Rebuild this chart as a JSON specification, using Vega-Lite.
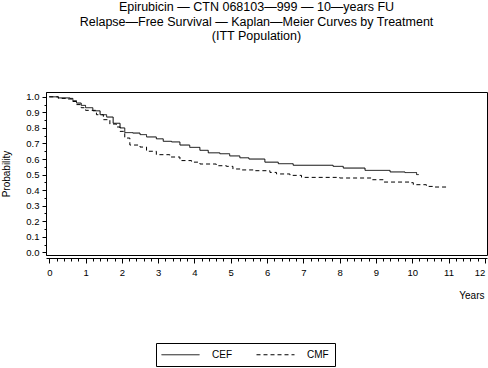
{
  "$schema": "https://vega.github.io/schema/vega-lite/v6.json",
  "autosize": {"type": "none"},
  "width": 441,
  "height": 163,
  "padding": {"left": 46, "top": 92, "right": 1, "bottom": 113},
  "background": "white",
  "title": {
    "text": ["Epirubicin — CTN 068103—999 — 10—years FU", "Relapse—Free Survival — Kaplan—Meier Curves by Treatment", "(ITT Population)"],
    "anchor": "middle",
    "dx": -10,
    "offset": 49,
    "font": "Liberation Sans",
    "fontSize": 12.5,
    "fontWeight": "normal",
    "lineHeight": 14.5,
    "color": "black"
  },
  "config": {
    "view": {"stroke": "black", "strokeWidth": 1},
    "axis": {
      "labelFont": "Liberation Sans",
      "titleFont": "Liberation Sans",
      "labelColor": "black",
      "titleColor": "black",
      "tickColor": "black",
      "domainColor": "black",
      "grid": false,
      "labelFontSize": 9.5,
      "titleFontSize": 10,
      "titleFontWeight": "normal"
    },
    "legend": {
      "labelFont": "Liberation Sans",
      "labelFontSize": 10,
      "labelColor": "black"
    }
  },
  "data": {
    "values": [
      {"t": 0, "p": 1.0, "trt": "CEF"},
      {"t": 0.25, "p": 0.993, "trt": "CEF"},
      {"t": 0.57, "p": 0.99, "trt": "CEF"},
      {"t": 0.65, "p": 0.975, "trt": "CEF"},
      {"t": 0.75, "p": 0.96, "trt": "CEF"},
      {"t": 0.88, "p": 0.945, "trt": "CEF"},
      {"t": 1.0, "p": 0.93, "trt": "CEF"},
      {"t": 1.2, "p": 0.91, "trt": "CEF"},
      {"t": 1.4, "p": 0.885, "trt": "CEF"},
      {"t": 1.58, "p": 0.87, "trt": "CEF"},
      {"t": 1.76, "p": 0.83, "trt": "CEF"},
      {"t": 1.95, "p": 0.8, "trt": "CEF"},
      {"t": 2.08, "p": 0.77, "trt": "CEF"},
      {"t": 2.3, "p": 0.767, "trt": "CEF"},
      {"t": 2.5, "p": 0.757, "trt": "CEF"},
      {"t": 2.68, "p": 0.742, "trt": "CEF"},
      {"t": 2.95, "p": 0.73, "trt": "CEF"},
      {"t": 3.14, "p": 0.714, "trt": "CEF"},
      {"t": 3.37, "p": 0.71, "trt": "CEF"},
      {"t": 3.6, "p": 0.69, "trt": "CEF"},
      {"t": 3.87, "p": 0.675, "trt": "CEF"},
      {"t": 4.15, "p": 0.656, "trt": "CEF"},
      {"t": 4.38, "p": 0.64, "trt": "CEF"},
      {"t": 4.7, "p": 0.634, "trt": "CEF"},
      {"t": 4.97, "p": 0.62, "trt": "CEF"},
      {"t": 5.25, "p": 0.608, "trt": "CEF"},
      {"t": 5.5, "p": 0.6, "trt": "CEF"},
      {"t": 5.94, "p": 0.58, "trt": "CEF"},
      {"t": 6.31, "p": 0.57, "trt": "CEF"},
      {"t": 6.72, "p": 0.56, "trt": "CEF"},
      {"t": 7.82, "p": 0.553, "trt": "CEF"},
      {"t": 8.1, "p": 0.542, "trt": "CEF"},
      {"t": 8.7, "p": 0.527, "trt": "CEF"},
      {"t": 9.39, "p": 0.517, "trt": "CEF"},
      {"t": 9.8, "p": 0.513, "trt": "CEF"},
      {"t": 10.12, "p": 0.5, "trt": "CEF"},
      {"t": 10.18, "p": 0.5, "trt": "CEF"},
      {"t": 0, "p": 1.0, "trt": "CMF"},
      {"t": 0.25, "p": 0.99, "trt": "CMF"},
      {"t": 0.52, "p": 0.986, "trt": "CMF"},
      {"t": 0.62, "p": 0.97, "trt": "CMF"},
      {"t": 0.75, "p": 0.95, "trt": "CMF"},
      {"t": 0.88, "p": 0.93, "trt": "CMF"},
      {"t": 1.0, "p": 0.913, "trt": "CMF"},
      {"t": 1.3, "p": 0.885, "trt": "CMF"},
      {"t": 1.49, "p": 0.853, "trt": "CMF"},
      {"t": 1.67, "p": 0.825, "trt": "CMF"},
      {"t": 1.85, "p": 0.806, "trt": "CMF"},
      {"t": 1.95, "p": 0.778, "trt": "CMF"},
      {"t": 2.08, "p": 0.735, "trt": "CMF"},
      {"t": 2.22, "p": 0.69, "trt": "CMF"},
      {"t": 2.5, "p": 0.677, "trt": "CMF"},
      {"t": 2.68, "p": 0.65, "trt": "CMF"},
      {"t": 2.95, "p": 0.628, "trt": "CMF"},
      {"t": 3.32, "p": 0.613, "trt": "CMF"},
      {"t": 3.6, "p": 0.59, "trt": "CMF"},
      {"t": 3.92, "p": 0.58, "trt": "CMF"},
      {"t": 4.15, "p": 0.568, "trt": "CMF"},
      {"t": 4.6, "p": 0.557, "trt": "CMF"},
      {"t": 4.88, "p": 0.553, "trt": "CMF"},
      {"t": 5.06, "p": 0.536, "trt": "CMF"},
      {"t": 5.3, "p": 0.53, "trt": "CMF"},
      {"t": 5.62, "p": 0.525, "trt": "CMF"},
      {"t": 6.08, "p": 0.514, "trt": "CMF"},
      {"t": 6.26, "p": 0.504, "trt": "CMF"},
      {"t": 6.63, "p": 0.495, "trt": "CMF"},
      {"t": 6.95, "p": 0.482, "trt": "CMF"},
      {"t": 8.0, "p": 0.478, "trt": "CMF"},
      {"t": 8.9, "p": 0.467, "trt": "CMF"},
      {"t": 9.2, "p": 0.452, "trt": "CMF"},
      {"t": 9.93, "p": 0.448, "trt": "CMF"},
      {"t": 10.03, "p": 0.435, "trt": "CMF"},
      {"t": 10.39, "p": 0.424, "trt": "CMF"},
      {"t": 10.6, "p": 0.42, "trt": "CMF"},
      {"t": 11.0, "p": 0.42, "trt": "CMF"}
    ]
  },
  "mark": {"type": "line", "interpolate": "step-after", "strokeWidth": 1, "color": "black"},
  "encoding": {
    "x": {
      "field": "t",
      "type": "quantitative",
      "scale": {"domain": [-0.09, 12.06], "nice": false, "zero": false},
      "axis": {
        "title": "Years",
        "titleAnchor": "end",
        "titleAlign": "right",
        "titleX": 438,
        "titlePadding": 14,
        "offset": 3,
        "labelPadding": 4,
        "values": [0,0.2,0.4,0.6,0.8,1,1.2,1.4,1.6,1.8,2,2.2,2.4,2.6,2.8,3,3.2,3.4,3.6,3.8,4,4.2,4.4,4.6,4.8,5,5.2,5.4,5.6,5.8,6,6.2,6.4,6.6,6.8,7,7.2,7.4,7.6,7.8,8,8.2,8.4,8.6,8.8,9,9.2,9.4,9.6,9.8,10,10.2,10.4,10.6,10.8,11,11.2,11.4,11.6,11.8,12],
        "labelExpr": "datum.value % 1 === 0 ? format(datum.value, 'd') : ''",
        "labelAlign": {"condition": {"test": "datum.value === 12", "value": "right"}, "value": "center"},
        "labelBound": false,
        "tickSize": {"condition": {"test": "datum.value % 1 === 0", "value": 5}, "value": 3}
      }
    },
    "y": {
      "field": "p",
      "type": "quantitative",
      "scale": {"domain": [-0.017, 1.031], "nice": false, "zero": false},
      "axis": {
        "title": "Probability",
        "titlePadding": 14,
        "labelPadding": 3,
        "values": [0,0.05,0.1,0.15,0.2,0.25,0.3,0.35,0.4,0.45,0.5,0.55,0.6,0.65,0.7,0.75,0.8,0.85,0.9,0.95,1],
        "labelExpr": "abs(datum.value*10 - round(datum.value*10)) < 0.000001 ? format(datum.value, '.1f') : ''",
        "tickSize": {"condition": {"test": "abs(datum.value*10 - round(datum.value*10)) < 0.000001", "value": 4}, "value": 2}
      }
    },
    "strokeDash": {
      "field": "trt",
      "type": "nominal",
      "scale": {"domain": ["CEF", "CMF"], "range": [[1, 0], [4, 3]]},
      "legend": {
        "title": null,
        "orient": "none",
        "legendX": 110,
        "legendY": 251,
        "direction": "horizontal",
        "symbolType": "M-3.8,0H3.8",
        "symbolSize": 100,
        "symbolOffset": 13,
        "symbolStrokeWidth": 1,
        "symbolStrokeColor": "black",
        "strokeColor": "black",
        "padding": 6,
        "columnPadding": 22,
        "labelOffset": 26
      }
    }
  }
}
